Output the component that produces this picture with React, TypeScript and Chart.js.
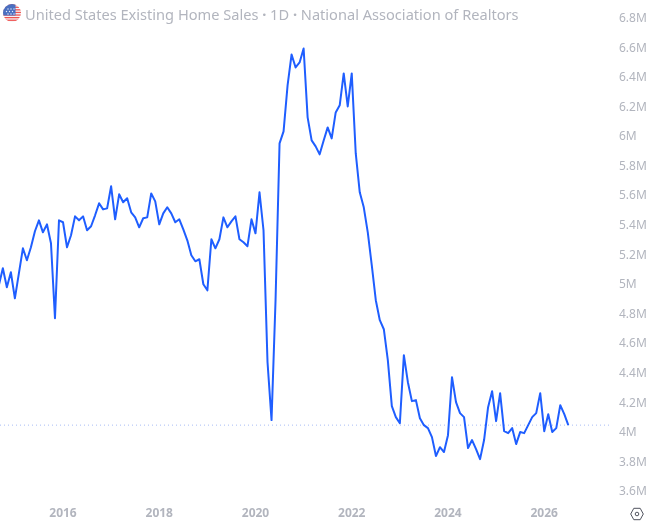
import React, { useEffect, useRef } from "react";
import { Chart, registerables } from "chart.js";

Chart.register(...registerables);

const titleText = "United States Existing Home Sales";
const titleInterval = "1D";
const titleSource = "National Association of Realtors";

// Months counted from January 2016
const firstMonth = -16;
const axisMin = -15.71;
const axisMax = 136.4;
const yearTickMonths = [0, 24, 48, 72, 96, 120];
const yearTickLabels = ["2016", "2018", "2020", "2022", "2024", "2026"];

const salesMillions = [
  4.997, 5.112, 4.984, 5.085, 4.909, 5.078, 5.247, 5.166, 5.254, 5.362, 5.436, 5.355, 5.409, 5.281, 4.774, 5.436,
  5.423, 5.254, 5.335, 5.463, 5.436, 5.463, 5.369, 5.396, 5.47, 5.551, 5.51, 5.517, 5.666, 5.443, 5.612, 5.558,
  5.585, 5.49, 5.456, 5.389, 5.45, 5.456, 5.618, 5.564, 5.409, 5.483, 5.524, 5.483, 5.423, 5.443, 5.375, 5.301,
  5.2, 5.159, 5.173, 5.004, 4.963, 5.308, 5.247, 5.308, 5.456, 5.389, 5.429, 5.463, 5.308, 5.288, 5.261, 5.443,
  5.348, 5.625, 5.369, 4.477, 4.086, 4.896, 5.956, 6.037, 6.348, 6.557, 6.469, 6.503, 6.597, 6.132, 5.976, 5.936,
  5.882, 5.976, 6.064, 5.99, 6.165, 6.213, 6.429, 6.206, 6.429, 5.888, 5.625, 5.524, 5.355, 5.132, 4.896, 4.761,
  4.7, 4.491, 4.18, 4.106, 4.065, 4.525, 4.342, 4.214, 4.221, 4.099, 4.052, 4.032, 3.971, 3.843, 3.903, 3.87,
  3.984, 4.376, 4.207, 4.133, 4.106, 3.897, 3.951, 3.89, 3.822, 3.951, 4.173, 4.281, 4.079, 4.268, 4.011, 3.998,
  4.032, 3.924, 4.005, 3.998, 4.052, 4.106, 4.133, 4.268, 4.011, 4.126, 4.005, 4.032, 4.187, 4.126, 4.052,
];
const lastValue = 4.052;

const yMin = 3.5325;
const yMax = 6.8155;
const priceTicks = [3.6, 3.8, 4, 4.2, 4.4, 4.6, 4.8, 5, 5.2, 5.4, 5.6, 5.8, 6, 6.2, 6.4, 6.6, 6.8];

const LINE = "#1f5eff";
const MUTED = "#b2b5be";
const FONT = '"Noto Sans", sans-serif';

function Flag() {
  const stripes = [0, 1, 2, 3, 4, 5, 6];
  const dots = [
    [5, 5], [8, 5], [11, 5], [3.5, 7.5], [6.5, 7.5], [9.5, 7.5], [5, 10], [8, 10], [11, 10],
  ];
  return (
    <svg width="18" height="18" viewBox="0 0 18 18" style={{ position: "absolute", left: 3, top: 4 }}>
      <defs>
        <clipPath id="flagClip">
          <circle cx="9" cy="9" r="9" />
        </clipPath>
      </defs>
      <g clipPath="url(#flagClip)">
        <rect width="18" height="18" fill="#f4f4f6" />
        {stripes.map((s) => (
          <rect key={s} x="0" y={s * 2.6} width="18" height="1.3" fill="#f0524f" />
        ))}
        <rect x="0" y="0" width="12.5" height="11.5" fill="#4a6fc0" />
        {dots.map(([x, y], i) => (
          <circle key={i} cx={x} cy={y} r="0.7" fill="#e8ecf8" />
        ))}
      </g>
    </svg>
  );
}

function Gear() {
  return (
    <svg width="14" height="14" viewBox="0 0 14 14" style={{ position: "absolute", left: 630, top: 507 }}>
      <path d="M3.8 1.3 H10.2 L13.3 7 L10.2 12.7 H3.8 L0.7 7 Z" fill="none" stroke="#50535e" strokeWidth="1" strokeLinejoin="round" />
      <circle cx="7" cy="7" r="1.8" fill="none" stroke="#50535e" strokeWidth="1" />
    </svg>
  );
}

export default function App() {
  const ref = useRef<HTMLCanvasElement | null>(null);

  useEffect(() => {
    document.body.style.margin = "0";
    if (!ref.current) return;
    const chart = new Chart(ref.current, {
      type: "line",
      data: {
        datasets: [
          {
            data: salesMillions.map((v, i) => ({ x: firstMonth + i, y: v })),
            borderColor: LINE,
            borderWidth: 2,
            pointRadius: 0,
            tension: 0,
            borderJoinStyle: "round",
            order: 1,
          },
          {
            data: [
              { x: axisMin, y: lastValue },
              { x: axisMax, y: lastValue },
            ],
            borderColor: "#a8bcf5",
            borderWidth: 1,
            borderDash: [1, 3],
            pointRadius: 0,
            order: 2,
          },
        ],
      },
      options: {
        animation: false,
        responsive: false,
        devicePixelRatio: 1,
        layout: { padding: 0, autoPadding: false },
        plugins: { legend: { display: false }, tooltip: { enabled: false }, title: { display: false } },
        scales: {
          x: {
            type: "linear",
            min: axisMin,
            max: axisMax,
            grid: { display: false, drawTicks: false },
            border: { display: false },
            afterBuildTicks: (s: any) => {
              s.ticks = yearTickMonths.map((value) => ({ value }));
            },
            afterFit: (s: any) => {
              s.height = 20;
            },
            ticks: {
              autoSkip: false,
              maxRotation: 0,
              padding: 4,
              color: MUTED,
              font: { family: FONT, size: 12, weight: "bold" },
              callback: (v: any) => yearTickLabels[yearTickMonths.indexOf(Number(v))] ?? "",
            },
          },
          y: {
            type: "linear",
            position: "right",
            bounds: "data",
            min: yMin,
            max: yMax,
            grid: { display: false, drawTicks: false },
            border: { display: false },
            afterBuildTicks: (s: any) => {
              s.ticks = priceTicks.map((value) => ({ value }));
              s.min = yMin;
              s.max = yMax;
            },
            afterFit: (s: any) => {
              s.width = 40;
            },
            ticks: {
              autoSkip: false,
              crossAlign: "near",
              padding: 9,
              color: MUTED,
              font: { family: FONT, size: 12 },
              callback: (v: any) => `${Number(v)}M`,
            },
          },
        },
      },
    } as any);
    return () => chart.destroy();
  }, []);

  return (
    <div style={{ position: "relative", width: 650, height: 522, overflow: "hidden" }}>
      <canvas ref={ref} width={650} height={522} style={{ display: "block" }} />
      <Flag />
      <div
        style={{
          position: "absolute",
          left: 25,
          top: 4,
          color: MUTED,
          font: `14.6px ${FONT}`,
          lineHeight: "20px",
          whiteSpace: "nowrap",
        }}
      >
        {titleText} <b>·</b> {titleInterval} <b>·</b> {titleSource}
      </div>
      <Gear />
    </div>
  );
}
